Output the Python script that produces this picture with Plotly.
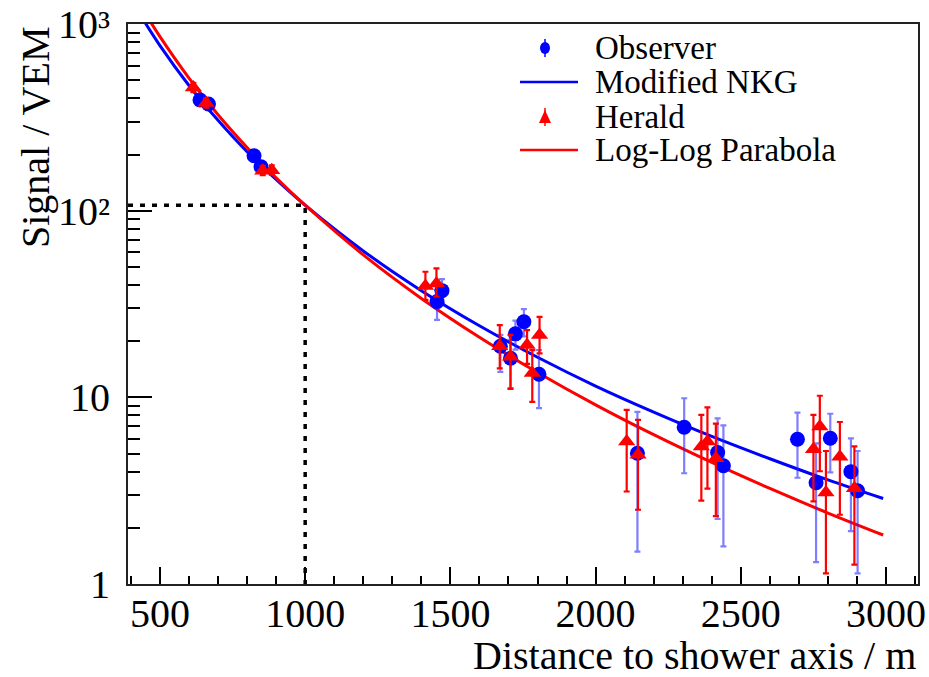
import plotly.graph_objects as go

# ---- data ----
obs_r = [638, 667, 824, 848, 1454, 1471, 1672, 1707, 1724, 1753, 1805, 2144, 2305, 2420, 2440, 2695, 2759, 2808, 2879, 2902]
obs_s = [392, 373, 197, 172, 32.6, 37.3, 18.8, 16.2, 21.9, 25.4, 13.3, 5.02, 6.92, 5.06, 4.30, 5.97, 3.49, 6.04, 4.00, 3.16]
obs_hi = [415, 395, 209, 183, 37.6, 43.0, 21.6, 20.3, 25.8, 29.7, 17.9, 8.37, 9.89, 7.71, 7.07, 8.28, 5.67, 8.17, 6.03, 5.16]
obs_lo = [370, 352, 186, 161, 26.0, 32.0, 13.7, 11.2, 18.0, 21.2, 8.75, 1.49, 3.92, 2.23, 1.59, 3.71, 1.31, 3.96, 1.92, 1.14]

her_r = [615, 659, 854, 885, 1414, 1452, 1670, 1707, 1764, 1782, 1807, 2107, 2146, 2364, 2385, 2414, 2750, 2772, 2793, 2841, 2891]
her_s = [458, 378, 164, 165, 39.5, 40.8, 18.8, 16.5, 19.1, 13.5, 21.6, 5.80, 4.92, 5.45, 5.80, 4.72, 5.27, 6.97, 3.09, 4.81, 3.26]
her_hi = [485, 400, 174, 175, 47.1, 49.1, 24.4, 21.6, 22.9, 17.9, 27.0, 8.57, 7.57, 8.05, 8.83, 7.24, 8.05, 10.2, 5.16, 7.38, 5.46]
her_lo = [432, 357, 155, 156, 33.3, 34.7, 14.3, 11.1, 15.1, 9.46, 17.2, 3.13, 2.50, 2.80, 3.24, 2.31, 2.77, 4.02, 1.14, 2.35, 1.27]

curve_r = [440, 500, 600, 700, 800, 900, 1000, 1200, 1400, 1600, 1800, 2000, 2200, 2400, 2600, 2800, 2990]
nkg_s = [1072, 767, 469, 305, 207, 147, 107, 60.9, 37.3, 24.2, 16.4, 11.5, 8.34, 6.18, 4.69, 3.61, 2.87]
llp_s = [1205, 857, 514, 327, 218, 150, 107, 58.0, 33.9, 21.0, 13.6, 9.12, 6.31, 4.48, 3.25, 2.40, 1.83]

ref_r = [390, 1000, 1000]
ref_s = [107, 107, 1]

x_ticks = [500, 1000, 1500, 2000, 2500, 3000]
y_ticks = [1, 10, 100, 1000]
y_text = ["1", "10", "10²", "10³"]

legend_labels = ["Observer", "Modified NKG", "Herald", "Log-Log Parabola"]

FONT = "Liberation Serif"
BLUE = "#0000ff"
RED = "#ff0000"

# plot area in pixels (for the hand-made legend)
L, R, T, B = 128, 918, 24, 584
W, H = 929, 677


def px(x):
    return (x - L) / (R - L)


def py(y):
    return (B - y) / (B - T)


fig = go.Figure()

fig.add_trace(go.Scatter(x=ref_r, y=ref_s, mode="lines", showlegend=False,
                         line=dict(color="black", width=3.5, dash="5px,7px"), hoverinfo="skip"))

fig.add_trace(go.Scatter(x=curve_r, y=nkg_s, mode="lines", name="Modified NKG", showlegend=False,
                         line=dict(color=BLUE, width=3, shape="spline")))
fig.add_trace(go.Scatter(x=curve_r, y=llp_s, mode="lines", name="Log-Log Parabola", showlegend=False,
                         line=dict(color=RED, width=3, shape="spline")))

fig.add_trace(go.Scatter(
    x=obs_r, y=obs_s, mode="markers", name="Observer", showlegend=False,
    marker=dict(symbol="circle", size=15, color=BLUE),
    error_y=dict(type="data", symmetric=False,
                 array=[h - s for h, s in zip(obs_hi, obs_s)],
                 arrayminus=[s - l for s, l in zip(obs_s, obs_lo)],
                 color="rgba(40,40,255,0.6)", thickness=2.2, width=3)))
fig.add_trace(go.Scatter(
    x=her_r, y=her_s, mode="markers", name="Herald", showlegend=False,
    marker=dict(symbol="triangle-up", size=15, color=RED),
    error_y=dict(type="data", symmetric=False,
                 array=[h - s for h, s in zip(her_hi, her_s)],
                 arrayminus=[s - l for s, l in zip(her_s, her_lo)],
                 color=RED, thickness=2.2, width=3)))

fig.update_layout(
    width=W, height=H,
    margin=dict(l=L, r=W - R, t=T, b=H - B, autoexpand=False),
    paper_bgcolor="white", plot_bgcolor="white",
    font=dict(family=FONT, size=40, color="black"),
    showlegend=False,
)

fig.update_xaxes(
    range=[390, 3110], tickvals=x_ticks, ticktext=[str(v) for v in x_ticks],
    ticks="inside", ticklen=17, tickwidth=1.5, tickcolor="black",
    minor=dict(ticks="inside", ticklen=8, dtick=100, tick0=0, tickcolor="black", tickwidth=1.5),
    showline=True, linecolor="#222", linewidth=2, mirror=True, automargin=False,
    showgrid=False, zeroline=False, ticklabelstandoff=-7, ticklabeloverflow="allow",
    tickfont=dict(family=FONT, size=40, color="black"),
)
fig.update_yaxes(
    type="log", range=[0, 3.0005], tickvals=y_ticks, ticktext=y_text,
    ticks="inside", ticklen=24, tickwidth=1.5, tickcolor="black",
    minor=dict(ticks="inside", ticklen=12, dtick="D1", tickcolor="black", tickwidth=1.5),
    showline=True, linecolor="#222", linewidth=2, mirror=True, automargin=False,
    showgrid=False, zeroline=False, ticklabelstandoff=8, ticklabeloverflow="allow",
    tickfont=dict(family=FONT, size=40, color="black"),
)

fig.add_annotation(text="Distance to shower axis / m", xref="paper", yref="paper",
                   x=1.0, y=py(655), xanchor="right", yanchor="middle", showarrow=False,
                   font=dict(family=FONT, size=40, color="black"))
fig.add_annotation(text="Signal / VEM", xref="paper", yref="paper",
                   x=px(35), y=1.0, xanchor="center", yanchor="top", showarrow=False,
                   textangle=-90, font=dict(family=FONT, size=40, color="black"))

# ---- hand-made legend (ROOT style, no box) ----
rows = [48, 82, 117, 150]
for lab, yy in zip(legend_labels, rows):
    fig.add_annotation(text=lab, xref="paper", yref="paper", x=px(593), y=py(yy),
                       xanchor="left", yanchor="middle", showarrow=False,
                       font=dict(family=FONT, size=33, color="black"))

# Observer marker
fig.add_shape(type="line", xref="paper", yref="paper", x0=px(545), x1=px(545),
              y0=py(rows[0] - 9), y1=py(rows[0] + 9), line=dict(color=BLUE, width=1.5))
fig.add_shape(type="circle", xref="paper", yref="paper", x0=px(540), x1=px(550),
              y0=py(rows[0] - 6), y1=py(rows[0] + 6), fillcolor=BLUE, line=dict(color=BLUE, width=0))
# Modified NKG line
fig.add_shape(type="line", xref="paper", yref="paper", x0=px(520), x1=px(578),
              y0=py(rows[1]), y1=py(rows[1]), line=dict(color=BLUE, width=2.5))
# Herald marker
fig.add_shape(type="line", xref="paper", yref="paper", x0=px(545), x1=px(545),
              y0=py(rows[2] - 9), y1=py(rows[2] + 9), line=dict(color=RED, width=1.5))
tri = "M {:.5f} {:.5f} L {:.5f} {:.5f} L {:.5f} {:.5f} Z".format(
    px(539), py(rows[2] + 6), px(551), py(rows[2] + 6), px(545), py(rows[2] - 7))
fig.add_shape(type="path", xref="paper", yref="paper", path=tri,
              fillcolor=RED, line=dict(color=RED, width=0))
# Log-Log Parabola line
fig.add_shape(type="line", xref="paper", yref="paper", x0=px(520), x1=px(578),
              y0=py(rows[3]), y1=py(rows[3]), line=dict(color=RED, width=2.5))

fig.write_html("out.html")
